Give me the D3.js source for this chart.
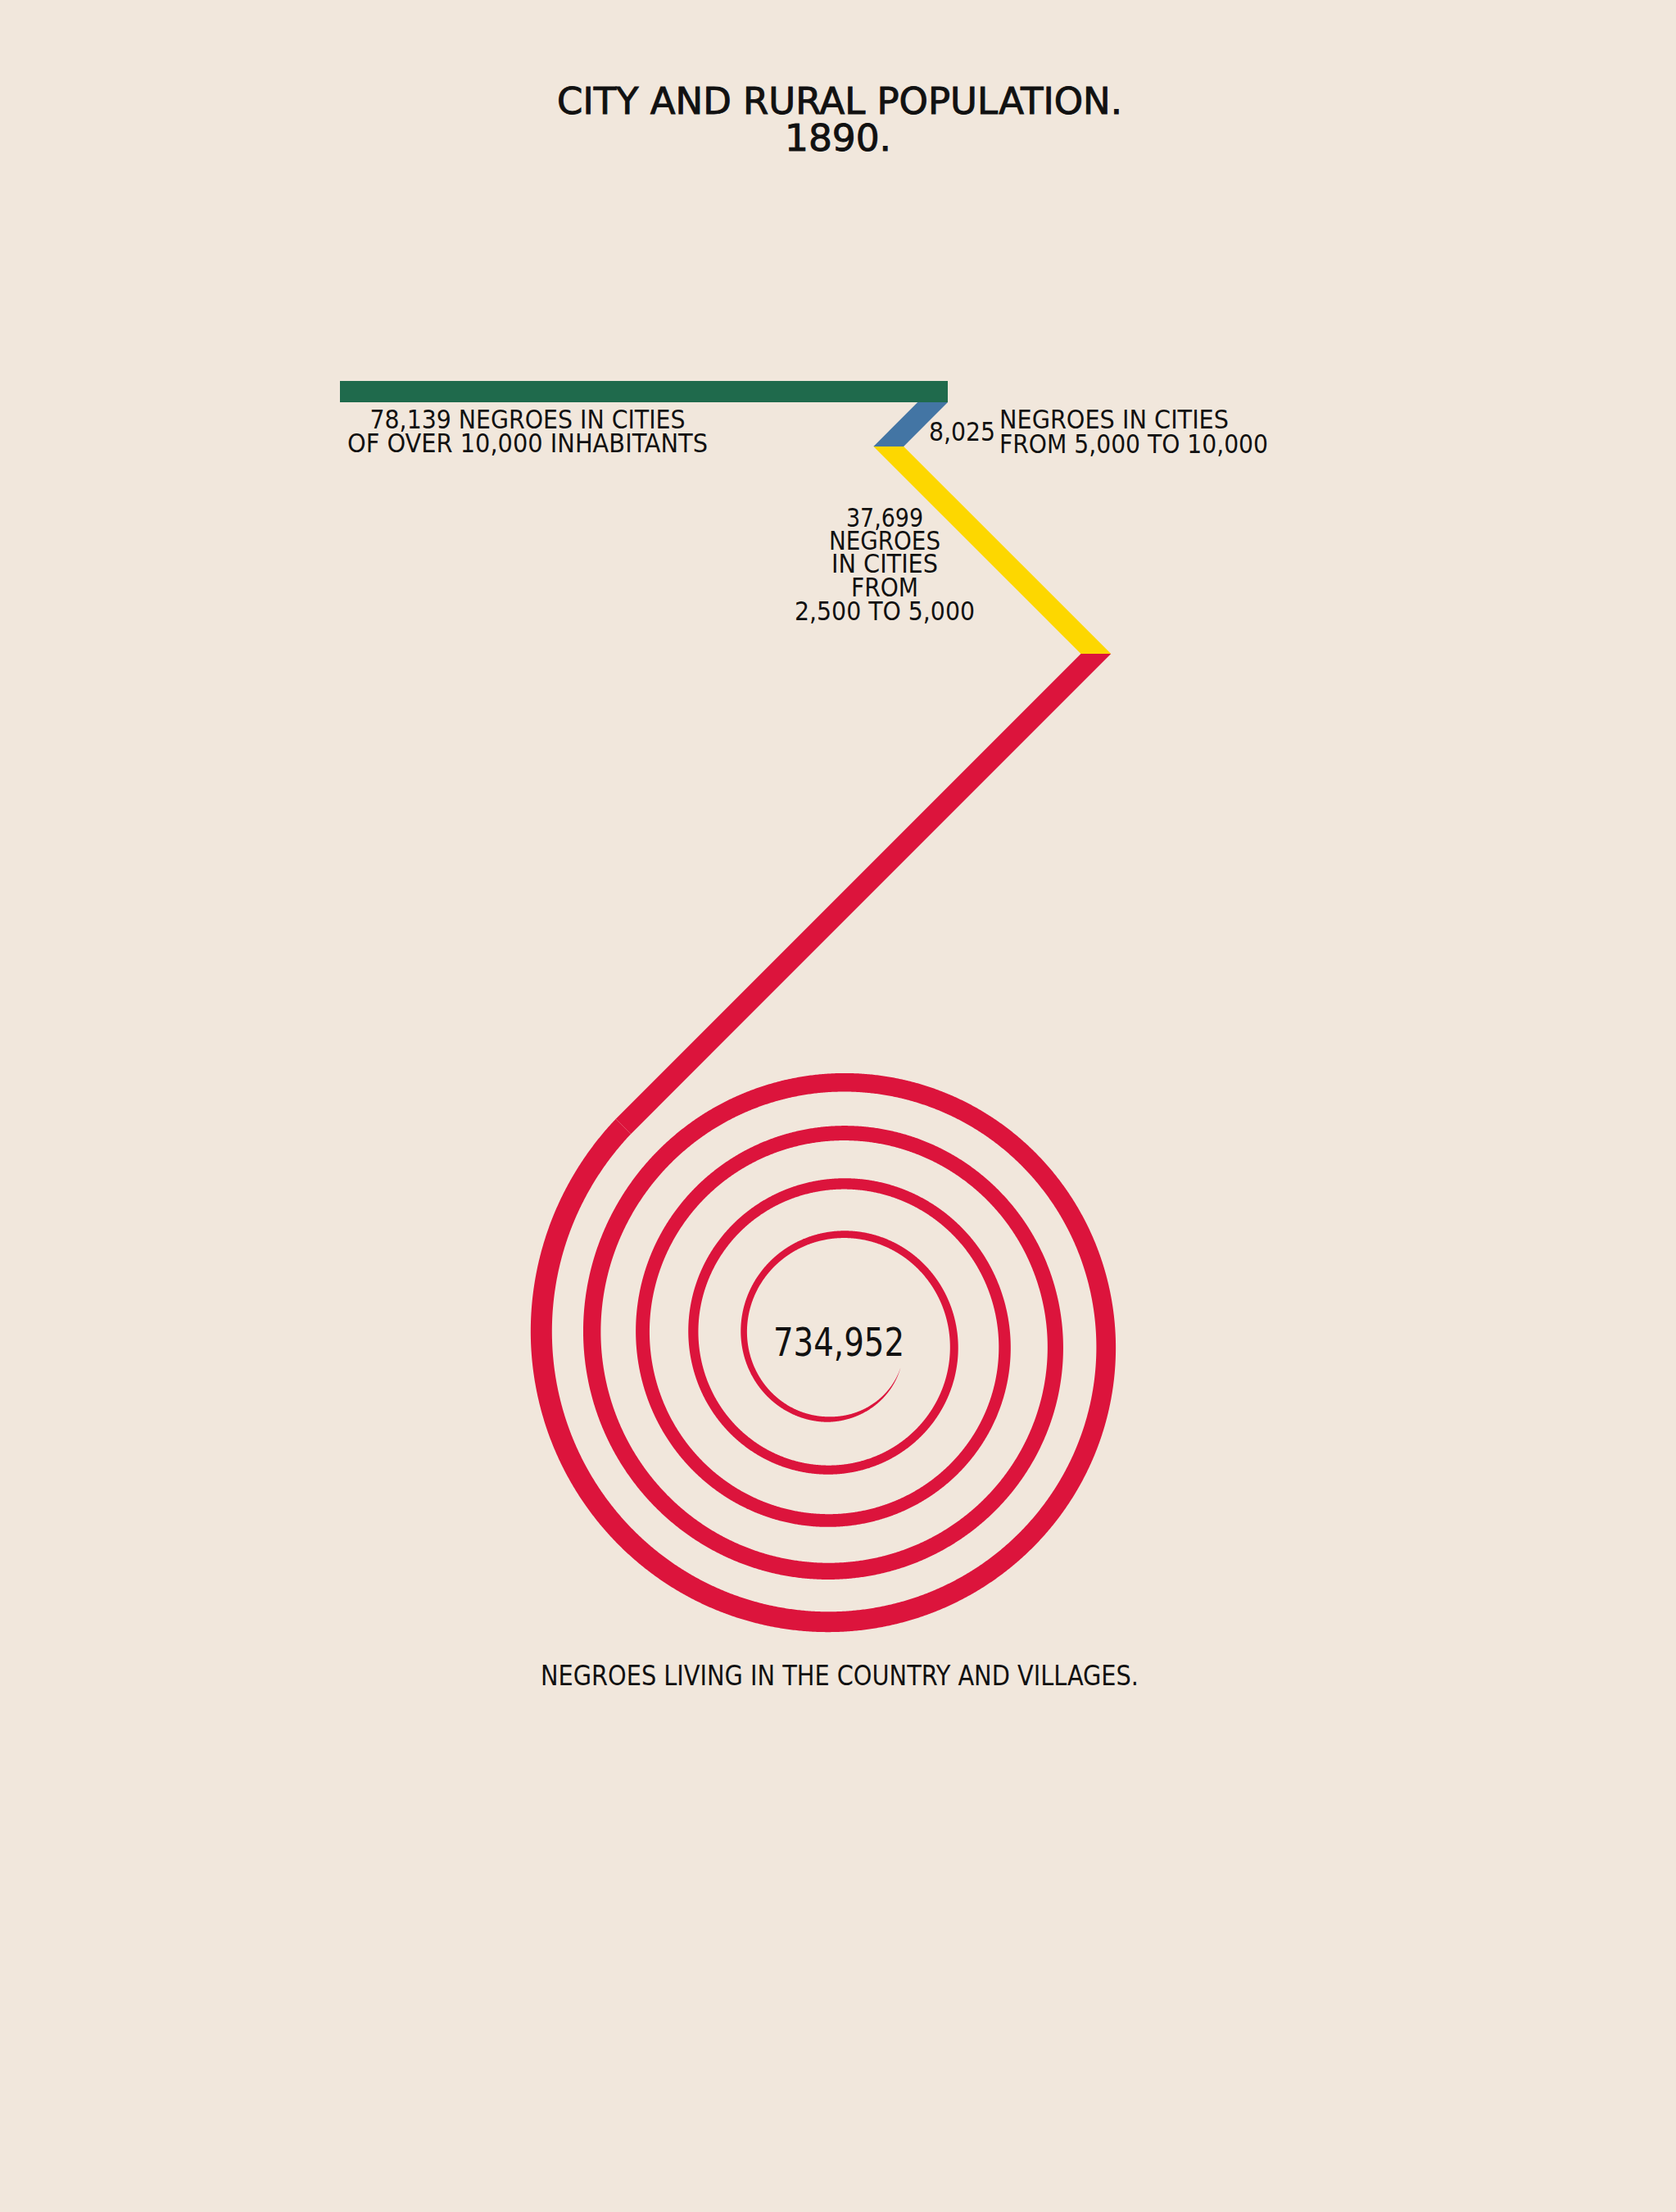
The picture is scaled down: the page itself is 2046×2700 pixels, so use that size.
<!DOCTYPE html>
<html>
<head>
<meta charset="utf-8">
<script src="https://cdn.jsdelivr.net/npm/d3@7"></script>
<style>
  body { margin: 0; background: #f1e7dc; }
  text { font-family: "DejaVu Sans Condensed", "DejaVu Sans", sans-serif; fill: #111; }
  .title { stroke: #111; stroke-width: 0.9px; }
</style>
</head>
<body>
<svg id="chart" width="2046" height="2700"></svg>
<script>
// data
const titleLines = ["CITY AND RURAL POPULATION.", "1890."];
const groups = ["cities over 10,000", "cities 5,000 to 10,000", "cities 2,500 to 5,000", "country and villages"];
const counts = [78139, 8025, 37699, 734952];
const colors = ["#1f6a4c", "#4375a4", "#fdd700", "#dc143c"];
const fmt = d3.format(",");

const svg = d3.select("#chart");
svg.append("rect").attr("width", 2046).attr("height", 2700).attr("fill", "#f1e7dc");

// band geometry
const W = 26;                 // band thickness
const H = W * Math.SQRT2;     // horizontal width of a 45 degree band
const len = d3.scaleLinear().domain([0, counts[0]]).range([0, 742]);

const x0 = 415, yTop = 465;
const g = svg.append("g");

// green: straight bar
const greenEnd = x0 + len(counts[0]);
g.append("rect")
  .attr("x", x0).attr("y", yTop)
  .attr("width", len(counts[0])).attr("height", W)
  .attr("fill", colors[0]);

// blue: down-left
let y1 = yTop + W;
let left1 = greenEnd - H;
const d2 = len(counts[1]) / Math.SQRT2;
g.append("path")
  .attr("d", d3.line()([[left1, y1], [greenEnd, y1], [greenEnd - d2, y1 + d2], [left1 - d2, y1 + d2]]))
  .attr("fill", colors[1]);

// yellow: down-right
const y2 = y1 + d2, left2 = left1 - d2;
const d3y = len(counts[2]) / Math.SQRT2;
g.append("path")
  .attr("d", d3.line()([[left2, y2], [left2 + H, y2], [left2 + H + d3y, y2 + d3y], [left2 + d3y, y2 + d3y]]))
  .attr("fill", colors[2]);

// red: diagonal down-left into the spiral
const y3 = y2 + d3y, left3 = left2 + d3y;
const cx = 1021, cy = 1635, b = 9.85;
const K = (left3 + H / 2) + y3;
const r0 = (cx + cy - K) / Math.SQRT2;
const th0 = 3 * Math.PI / 4;
const T = [cx - r0 / Math.SQRT2, cy - r0 / Math.SQRT2];
const n = W / 2 / Math.SQRT2;
g.append("path")
  .attr("d", d3.line()([[left3, y3], [left3 + H, y3], [T[0] + n, T[1] + n], [T[0] - n, T[1] - n]]))
  .attr("fill", colors[3]);

// spiral sweep for the rural count
const thEnd = Math.PI + 4.435 * 2 * Math.PI;
const angle = d3.scaleLinear().domain([0, counts[3]]).range([th0, thEnd]);
const taper = 0.2 * 2 * Math.PI;
function width(th) {
  const t = (th - Math.PI) / (2 * Math.PI);
  let w = t < 0 ? W : Math.min(W, W - 4.6 * t);
  if (thEnd - th < taper) w *= Math.max(0, (thEnd - th) / taper);
  return w;
}
const ths = d3.range(th0, angle(counts[3]), 0.005).concat([angle(counts[3])]);
const outer = [], inner = [];
ths.forEach(th => {
  const r = r0 - b * (th - th0), w = width(th);
  outer.push([cx + (r + w / 2) * Math.cos(th), cy - (r + w / 2) * Math.sin(th)]);
  inner.push([cx + (r - w / 2) * Math.cos(th), cy - (r - w / 2) * Math.sin(th)]);
});
g.append("path")
  .attr("d", d3.line()(outer.concat(inner.reverse())) + "Z")
  .attr("fill", colors[3]);

// text
function txt(s, x, y, size, w, anchor, cls) {
  svg.append("text")
    .attr("class", cls || null)
    .attr("x", x).attr("y", y)
    .attr("font-size", size)
    .attr("text-anchor", anchor || "middle")
    .attr("textLength", w)
    .attr("lengthAdjust", "spacingAndGlyphs")
    .text(s);
}
txt(titleLines[0], 1025, 139, 45, 690, "middle", "title");
txt(titleLines[1], 1023, 184, 45, 130, "middle", "title");

const fs = 32;
txt(fmt(counts[0]) + " NEGROES IN CITIES", 644, 523, fs, 385);
txt("OF OVER 10,000 INHABITANTS", 644, 552, fs, 440);

txt(fmt(counts[1]), 1134, 538, fs, 81, "start");
txt("NEGROES IN CITIES", 1220, 523, fs, 280, "start");
txt("FROM 5,000 TO 10,000", 1220, 553, fs, 328, "start");

const yLines = [fmt(counts[2]), "NEGROES", "IN CITIES", "FROM", "2,500 TO 5,000"];
const yBase = [643, 671, 699, 728, 757];
const yWid = [94, 136, 130, 82, 220];
yLines.forEach((s, i) => txt(s, 1080, yBase[i], fs, yWid[i]));

txt(fmt(counts[3]), 1024, 1655, 48, 160);
txt("NEGROES LIVING IN THE COUNTRY AND VILLAGES.", 1025, 2057, 34, 730);
</script>
</body>
</html>
